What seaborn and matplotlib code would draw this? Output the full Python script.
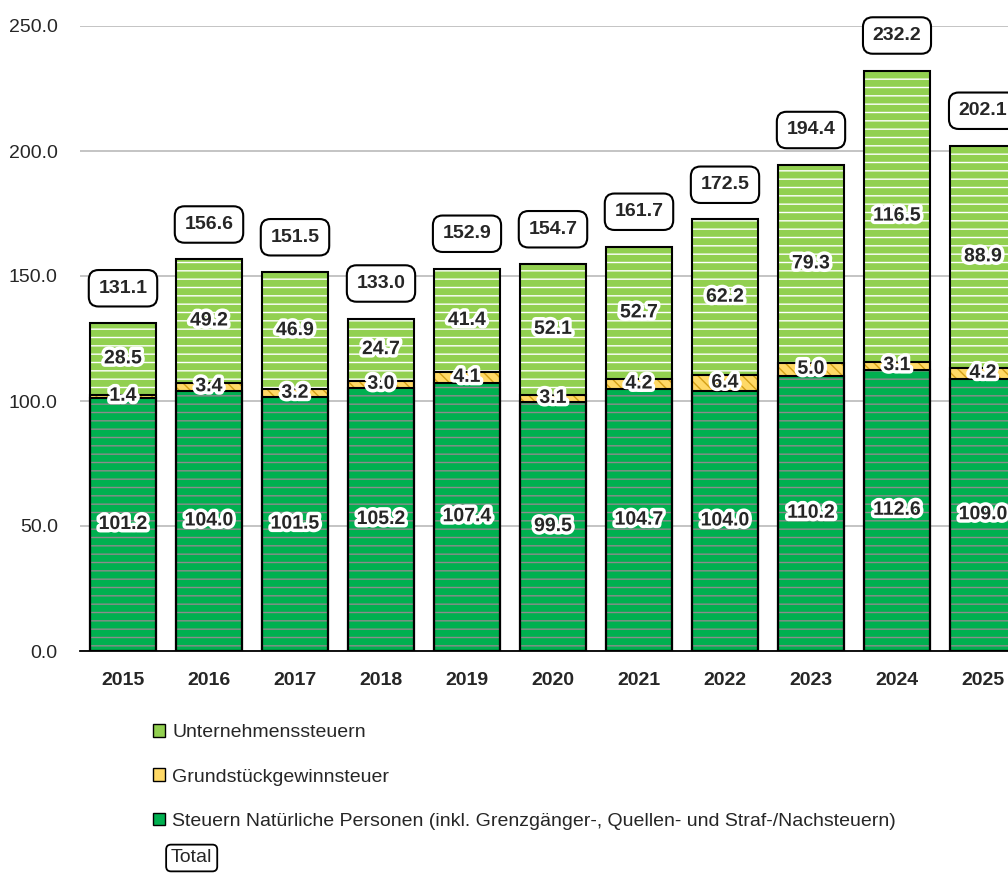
import pandas as pd
import seaborn as sns
import matplotlib.pyplot as plt
import matplotlib.patheffects as pe
from matplotlib.patches import Patch, Rectangle

# Data (Mio. CHF)
years = ['2015', '2016', '2017', '2018', '2019', '2020', '2021', '2022', '2023', '2024', '2025']
natuerliche = [101.2, 104.0, 101.5, 105.2, 107.4, 99.5, 104.7, 104.0, 110.2, 112.6, 109.0]
grundstueck = [1.4, 3.4, 3.2, 3.0, 4.1, 3.1, 4.2, 6.4, 5.0, 3.1, 4.2]
unternehmen = [28.5, 49.2, 46.9, 24.7, 41.4, 52.1, 52.7, 62.2, 79.3, 116.5, 88.9]
total = [131.1, 156.6, 151.5, 133.0, 152.9, 154.7, 161.7, 172.5, 194.4, 232.2, 202.1]

df = pd.DataFrame({'year': years, 'np': natuerliche, 'gr': grundstueck, 'un': unternehmen, 'total': total})
df['cum_gr'] = df['np'] + df['gr']
df['cum_un'] = df['cum_gr'] + df['un']

sns.set_style('white')
plt.rcParams['font.family'] = ['Liberation Sans', 'DejaVu Sans']
plt.rcParams['hatch.linewidth'] = 1.0

c_dark = '#00B050'
c_yel = '#FFD966'
c_light = '#92D050'
fs = 14

fig = plt.figure(figsize=(10.08, 8.74), dpi=100)
ax = fig.add_axes([80 / 1008, 223 / 874, 946 / 1008, 625 / 874])

# stacked bars: draw cumulative heights from the top layer down
layers = [('cum_un', c_light, '--', 'white'),
          ('cum_gr', c_yel, '\\\\\\', '#D4A017'),
          ('np', c_dark, '--', '#8C8C8C')]
for col, color, hatch, hcol in layers:
    n0 = len(ax.patches)
    sns.barplot(data=df, x='year', y=col, color=color, width=0.76, ax=ax,
                saturation=1, errorbar=None)
    for p in list(ax.patches[n0:]):
        p.set_edgecolor(hcol)
        p.set_linewidth(0)
        p.set_hatch(hatch)
        ax.add_patch(Rectangle(p.get_xy(), p.get_width(), p.get_height(),
                               fill=False, edgecolor='black', linewidth=1.5, zorder=p.get_zorder() + 0.1))

ax.set_ylim(0, 250)
ax.set_xlim(-0.5, 10.5)
ax.set_yticks([0, 50, 100, 150, 200, 250])
ax.set_yticklabels([f'{v:.1f}' for v in [0, 50, 100, 150, 200, 250]], fontsize=fs)
ax.yaxis.grid(True, color='#BFBFBF', linewidth=1.3)
ax.set_axisbelow(True)
ax.tick_params(axis='y', length=0, pad=16)
ax.set_xticks(range(len(years)))
ax.set_xticklabels(years, fontsize=fs, fontweight='bold')
ax.set_xticks([i - 0.5 for i in range(len(years) + 1)], minor=True)
ax.tick_params(axis='x', which='major', length=0, pad=15)
ax.tick_params(axis='x', which='minor', length=6, width=1.3, color='black', direction='out')
ax.set_xlabel('')
ax.set_ylabel('')
for s in ['top', 'right', 'left']:
    ax.spines[s].set_visible(False)
ax.spines['bottom'].set_color('black')
ax.spines['bottom'].set_linewidth(1.3)
ax.spines['bottom'].set_zorder(5)

halo = [pe.withStroke(linewidth=5, foreground='white')]
for i in range(len(years)):
    ax.text(i, natuerliche[i] / 2, f'{natuerliche[i]:.1f}', ha='center', va='center',
            fontsize=fs, fontweight='bold', path_effects=halo, zorder=6)
    ax.text(i, natuerliche[i] + grundstueck[i] / 2, f'{grundstueck[i]:.1f}', ha='center', va='center',
            fontsize=fs, fontweight='bold', path_effects=halo, zorder=6)
    ax.text(i, df['cum_gr'][i] + unternehmen[i] / 2, f'{unternehmen[i]:.1f}', ha='center', va='center',
            fontsize=fs, fontweight='bold', path_effects=halo, zorder=6)
    ax.text(i, total[i] + 14, f'{total[i]:.1f}', ha='center', va='center', fontsize=fs, fontweight='bold',
            zorder=6, bbox=dict(boxstyle='round,pad=0.5', fc='white', ec='black', lw=1.5))

handles = [Patch(facecolor=c_light, edgecolor='black', label='Unternehmenssteuern'),
           Patch(facecolor=c_yel, edgecolor='black', label='Grundstückgewinnsteuer'),
           Patch(facecolor=c_dark, edgecolor='black',
                 label='Steuern Natürliche Personen (inkl. Grenzgänger-, Quellen- und Straf-/Nachsteuern)')]
fig.legend(handles=handles, loc='upper left', bbox_to_anchor=(153 / 1008, 1 - 724 / 874),
           frameon=False, fontsize=fs, handlelength=0.62, handleheight=0.62, handletextpad=0.36,
           labelspacing=1.4, borderaxespad=0, borderpad=0)
fig.text(171 / 1008, 1 - 858 / 874, 'Total', fontsize=fs, ha='left', va='center',
         bbox=dict(boxstyle='round,pad=0.25', fc='white', ec='black', lw=1.3))

fig.savefig('out.png', dpi=100)
